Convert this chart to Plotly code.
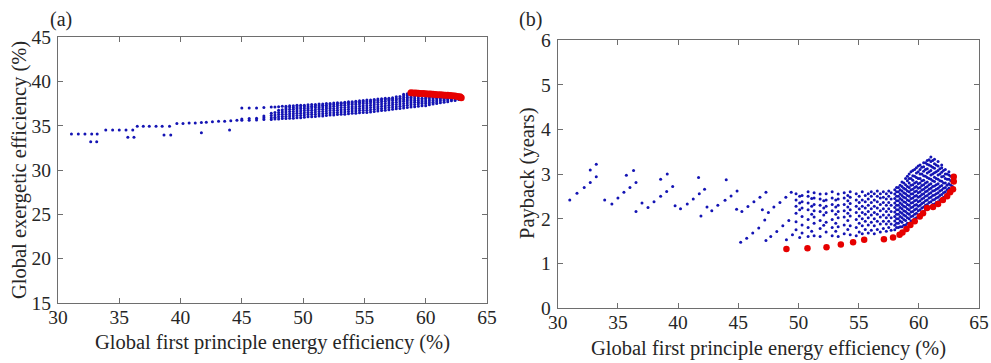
import plotly.graph_objects as go

FONT = "Liberation Serif, Times New Roman, serif"
BLUE = "#1414b4"
RED = "#e60000"

# ---------------- Panel (a) data ----------------
a_sparse_x = [31.1, 31.66, 32.2, 32.75, 33.2, 32.67, 33.16,
              33.9, 34.46, 35.0, 35.55, 36.1, 35.7, 36.2,
              36.47, 36.96, 37.45, 38.0, 38.5, 39.1, 38.65, 39.2,
              39.7, 40.2, 40.7, 41.2, 41.7, 42.1, 41.7,
              42.6, 43.1, 43.6, 44.1, 44.6, 44.0]
a_sparse_y = [34.05, 34.05, 34.05, 34.05, 34.05, 33.2, 33.2,
              34.5, 34.5, 34.5, 34.5, 34.5, 33.7, 33.7,
              34.95, 34.95, 34.95, 34.95, 34.95, 34.95, 33.94, 33.94,
              35.25, 35.25, 35.3, 35.3, 35.35, 35.4, 34.2,
              35.45, 35.5, 35.5, 35.55, 35.6, 34.5]

a_cols = [
    (45.0, [35.6, 35.75, 37.0]),
    (45.6, [35.6, 35.8, 37.0]),
    (46.2, [35.65, 35.85, 37.0]),
    (46.8, [35.7, 35.9, 36.1, 37.05]),
    (47.4, [35.7, 35.9, 36.15, 36.4, 37.1]),
    (47.7, [35.75, 35.95, 36.2, 36.5, 37.1]),
    (48.0, [35.75, 36.0, 36.25, 36.5, 36.75, 37.15]),
    (48.3, [35.8, 36.05, 36.3, 36.55, 36.8, 37.2]),
    (48.6, [35.8, 36.05, 36.3, 36.55, 36.8, 37.0, 37.2]),
    (48.9, [35.85, 36.1, 36.35, 36.6, 36.85, 37.1, 37.25]),
    (49.2, [35.85, 36.1, 36.35, 36.6, 36.85, 37.05, 37.25]),
    (49.5, [35.9, 36.15, 36.4, 36.65, 36.9, 37.1, 37.3]),
    (49.8, [35.9, 36.15, 36.4, 36.65, 36.9, 37.1, 37.3]),
    (50.1, [35.95, 36.2, 36.45, 36.7, 36.95, 37.15, 37.3]),
    (50.4, [36.0, 36.25, 36.5, 36.75, 36.95, 37.15, 37.35]),
    (50.7, [36.0, 36.25, 36.5, 36.75, 37.0, 37.2, 37.4]),
    (51.0, [36.05, 36.3, 36.55, 36.8, 37.05, 37.25, 37.4]),
    (51.3, [36.1, 36.35, 36.6, 36.85, 37.05, 37.25, 37.45]),
    (51.6, [36.1, 36.35, 36.6, 36.85, 37.1, 37.3, 37.45]),
    (51.9, [36.15, 36.4, 36.65, 36.9, 37.1, 37.3, 37.5]),
    (52.2, [36.2, 36.45, 36.7, 36.95, 37.15, 37.35, 37.5]),
    (52.5, [36.2, 36.45, 36.7, 36.95, 37.2, 37.4, 37.55]),
    (52.8, [36.25, 36.5, 36.75, 37.0, 37.25, 37.45, 37.6]),
    (53.1, [36.3, 36.55, 36.8, 37.05, 37.3, 37.5, 37.6]),
    (53.4, [36.3, 36.55, 36.8, 37.05, 37.3, 37.5, 37.65]),
    (53.7, [36.35, 36.6, 36.85, 37.1, 37.35, 37.55, 37.7]),
    (54.0, [36.4, 36.65, 36.9, 37.15, 37.4, 37.55, 37.7]),
    (54.3, [36.4, 36.65, 36.9, 37.15, 37.4, 37.6, 37.75]),
    (54.6, [36.45, 36.7, 36.95, 37.2, 37.45, 37.65, 37.8]),
    (54.9, [36.5, 36.75, 37.0, 37.25, 37.5, 37.7, 37.85]),
    (55.2, [36.5, 36.75, 37.0, 37.25, 37.5, 37.7, 37.9]),
    (55.5, [36.55, 36.8, 37.05, 37.3, 37.55, 37.75, 37.9]),
    (55.8, [36.6, 36.85, 37.1, 37.35, 37.6, 37.8, 37.95]),
    (56.1, [36.65, 36.9, 37.15, 37.4, 37.65, 37.85, 38.0]),
    (56.4, [36.7, 36.95, 37.2, 37.45, 37.7, 37.9, 38.05]),
    (56.7, [36.75, 37.0, 37.25, 37.5, 37.75, 37.95, 38.1]),
    (57.0, [36.8, 37.05, 37.3, 37.55, 37.8, 37.95, 38.1]),
    (57.3, [36.85, 37.1, 37.35, 37.6, 37.85, 38.0, 38.15]),
    (57.6, [36.9, 37.15, 37.4, 37.65, 37.9, 38.05, 38.25]),
    (57.9, [36.95, 37.2, 37.45, 37.7, 37.9, 38.1, 38.3]),
    (58.2, [37.0, 37.25, 37.5, 37.75, 37.95, 38.15, 38.35, 38.55]),
    (58.5, [37.05, 37.3, 37.55, 37.8, 38.0, 38.2, 38.4, 38.6]),
    (58.8, [37.1, 37.35, 37.6, 37.8, 38.0, 38.2, 38.4]),
    (59.1, [37.15, 37.4, 37.65, 37.85, 38.05, 38.25]),
    (59.4, [37.2, 37.45, 37.65, 37.85, 38.05, 38.25]),
    (59.7, [37.25, 37.5, 37.7, 37.9, 38.1]),
    (60.0, [37.25, 37.5, 37.7, 37.9, 38.1, 38.25]),
    (60.3, [37.35, 37.6, 37.8, 38.0, 38.2]),
    (60.6, [37.45, 37.65, 37.85, 38.05, 38.2]),
    (60.9, [37.5, 37.7, 37.9, 38.1]),
    (61.2, [37.6, 37.8, 38.0, 38.15]),
    (61.5, [37.65, 37.85, 38.0, 38.1]),
    (61.8, [37.7, 37.9, 38.05, 38.15]),
    (62.1, [37.8, 37.95, 38.1]),
    (62.4, [37.85, 38.0, 38.1]),
    (62.7, [37.95, 38.05]),
]

a_red_x = [58.8, 59.0, 59.2, 59.4, 59.6, 59.8, 60.0, 60.2, 60.4, 60.6, 60.8,
           61.0, 61.2, 61.4, 61.6, 61.8, 62.0, 62.2, 62.4, 62.6, 62.8, 62.9]
a_red_y = [38.72, 38.7, 38.68, 38.66, 38.64, 38.62, 38.6, 38.58, 38.56, 38.54, 38.52,
           38.5, 38.48, 38.46, 38.44, 38.42, 38.4, 38.38, 38.35, 38.3, 38.25, 38.15]

# ---------------- Panel (b) data ----------------
b_sparse_x = [31.0, 31.6, 32.2, 32.7, 32.7, 33.2, 33.2,
              33.9, 34.5, 35.0, 35.5, 36.0, 36.5, 35.7, 36.3, 36.5,
              37.0, 37.5, 38.0, 38.55, 39.05, 39.55, 38.55, 39.1,
              39.75, 40.2, 40.76, 41.26, 41.76, 42.2, 41.7, 41.9,
              42.4, 42.8, 43.3, 43.9, 44.4, 44.9, 44.0,
              44.86, 45.3, 45.8, 46.3, 46.8, 47.3, 45.2, 45.7, 46.2, 46.7, 47.2,
              47.0, 47.5, 47.96, 48.46, 48.95, 49.4, 47.3, 47.7, 48.2, 48.7, 49.2, 49.0, 49.5]
b_sparse_y = [2.42, 2.57, 2.70, 2.81, 3.09, 3.22, 2.94,
              2.42, 2.33, 2.46, 2.59, 2.70, 2.81, 2.97, 3.08, 2.16,
              2.35, 2.25, 2.38, 2.50, 2.61, 2.72, 2.88, 3.0,
              2.29, 2.22, 2.33, 2.44, 2.56, 2.66, 2.92, 2.06,
              2.26, 2.18, 2.30, 2.41, 2.51, 2.62, 2.87,
              2.21, 2.16, 2.27, 2.38, 2.48, 2.59, 1.47, 1.56, 1.68, 1.79, 1.97,
              2.20, 2.14, 2.26, 2.36, 2.48, 2.59, 1.51, 1.60, 1.71, 1.84, 1.96, 1.53, 1.64]

b_cols = [
    (49.8, [1.75, 1.93, 2.12, 2.28, 2.42, 2.56]),
    (50.1, [1.58, 2.2, 2.35, 2.5]),
    (50.3, [1.68, 1.86, 2.05, 2.24, 2.38, 2.52]),
    (50.8, [1.6, 1.8, 1.98, 2.2, 2.35, 2.5, 2.6]),
    (51.1, [1.72, 2.1, 2.28, 2.45]),
    (51.3, [1.62, 1.9, 2.04, 2.18, 2.32, 2.46, 2.58]),
    (51.8, [1.6, 1.78, 1.96, 2.16, 2.3, 2.44, 2.55]),
    (52.1, [1.85, 2.08, 2.24, 2.4]),
    (52.3, [1.7, 1.92, 2.14, 2.28, 2.42, 2.56]),
    (52.8, [1.62, 1.8, 1.98, 2.18, 2.32, 2.46, 2.6]),
    (53.1, [1.72, 1.9, 2.1, 2.26, 2.42]),
    (53.3, [1.6, 1.82, 2.02, 2.16, 2.3, 2.44, 2.55]),
    (53.8, [1.66, 1.86, 2.04, 2.18, 2.32, 2.46, 2.58]),
    (54.1, [1.76, 1.96, 2.12, 2.26, 2.4, 2.52]),
    (54.3, [1.64, 1.84, 2.06, 2.2, 2.34, 2.48, 2.6]),
    (54.8, [1.62, 1.8, 1.98, 2.14, 2.28, 2.42, 2.56]),
    (55.05, [1.7, 1.9, 2.06, 2.22, 2.36, 2.5]),
    (55.3, [1.66, 1.84, 2.0, 2.14, 2.28, 2.42, 2.6]),
    (55.55, [1.76, 1.94, 2.1, 2.24, 2.38, 2.52]),
    (55.8, [1.68, 1.86, 2.02, 2.16, 2.3, 2.44, 2.56]),
    (56.05, [1.74, 1.92, 2.08, 2.22, 2.36, 2.5, 2.6]),
    (56.3, [1.66, 1.84, 2.0, 2.14, 2.28, 2.42, 2.56]),
    (56.55, [1.76, 1.94, 2.1, 2.24, 2.38, 2.5, 2.62]),
    (56.8, [1.7, 1.88, 2.04, 2.18, 2.32, 2.46, 2.56]),
    (57.05, [1.78, 1.94, 2.08, 2.22, 2.36, 2.48, 2.6]),
    (57.3, [1.72, 1.88, 2.02, 2.16, 2.3, 2.44, 2.56]),
    (57.5, [1.8, 1.94, 2.08, 2.22, 2.36, 2.5, 2.62]),
    (57.7, [1.74, 1.88, 2.02, 2.16, 2.3, 2.44, 2.58]),
    (58.0, [1.75, 1.85, 1.95, 2.05, 2.15, 2.25, 2.35, 2.45, 2.55, 2.65]),
    (58.15, [1.8, 1.9, 2.0, 2.1, 2.2, 2.3, 2.4, 2.5, 2.6, 2.7]),
    (58.3, [1.8, 1.9, 2.0, 2.1, 2.2, 2.3, 2.4, 2.5, 2.6, 2.7]),
    (58.45, [1.82, 1.95, 2.05, 2.15, 2.25, 2.35, 2.45, 2.55, 2.65, 2.75]),
    (58.6, [1.82, 1.92, 2.02, 2.12, 2.22, 2.32, 2.42, 2.52, 2.62, 2.72, 2.82]),
    (58.75, [1.85, 1.98, 2.08, 2.18, 2.28, 2.38, 2.48, 2.58, 2.68, 2.8]),
    (58.9, [1.86, 1.96, 2.06, 2.16, 2.26, 2.36, 2.46, 2.56, 2.66, 2.76, 2.9]),
    (59.05, [1.9, 2.02, 2.12, 2.22, 2.32, 2.42, 2.52, 2.62, 2.72, 2.85, 2.95]),
    (59.2, [1.9, 2.0, 2.1, 2.2, 2.3, 2.4, 2.5, 2.6, 2.7, 2.8, 2.9, 3.0]),
    (59.35, [1.95, 2.05, 2.15, 2.25, 2.35, 2.45, 2.55, 2.65, 2.75, 2.9, 3.05]),
    (59.5, [1.96, 2.06, 2.16, 2.26, 2.36, 2.46, 2.56, 2.66, 2.76, 2.86, 2.96, 3.08]),
    (59.65, [2.0, 2.1, 2.2, 2.3, 2.4, 2.5, 2.6, 2.7, 2.8, 2.95, 3.1]),
    (59.8, [2.02, 2.12, 2.22, 2.32, 2.42, 2.52, 2.62, 2.72, 2.82, 2.92, 3.02, 3.14]),
    (59.95, [2.08, 2.18, 2.28, 2.38, 2.48, 2.58, 2.68, 2.78, 2.9, 3.05, 3.18]),
    (60.1, [2.1, 2.2, 2.3, 2.4, 2.5, 2.6, 2.7, 2.8, 2.9, 3.0, 3.1, 3.2]),
    (60.25, [2.14, 2.24, 2.34, 2.44, 2.54, 2.64, 2.74, 2.85, 3.0, 3.15]),
    (60.4, [2.16, 2.26, 2.36, 2.46, 2.56, 2.66, 2.76, 2.86, 2.96, 3.06, 3.16, 3.25]),
    (60.55, [2.2, 2.3, 2.4, 2.5, 2.6, 2.7, 2.8, 2.95, 3.1, 3.25]),
    (60.7, [2.22, 2.32, 2.42, 2.52, 2.62, 2.72, 2.82, 2.92, 3.02, 3.12, 3.22, 3.3]),
    (60.85, [2.26, 2.36, 2.46, 2.56, 2.66, 2.76, 2.9, 3.05, 3.2, 3.32]),
    (61.0, [2.28, 2.38, 2.48, 2.58, 2.68, 2.78, 2.88, 2.98, 3.08, 3.18, 3.28, 3.38]),
    (61.15, [2.32, 2.42, 2.52, 2.62, 2.72, 2.85, 3.0, 3.15, 3.3]),
    (61.3, [2.33, 2.43, 2.53, 2.63, 2.73, 2.83, 2.93, 3.03, 3.13, 3.23, 3.33]),
    (61.45, [2.36, 2.46, 2.56, 2.66, 2.76, 2.9, 3.05, 3.2]),
    (61.6, [2.38, 2.48, 2.58, 2.68, 2.78, 2.88, 2.98, 3.08, 3.18, 3.28]),
    (61.75, [2.42, 2.52, 2.62, 2.72, 2.85, 3.0, 3.12]),
    (61.9, [2.44, 2.54, 2.64, 2.74, 2.84, 2.94, 3.04, 3.14, 3.2]),
    (62.05, [2.48, 2.58, 2.68, 2.8, 2.95, 3.08]),
    (62.2, [2.5, 2.6, 2.7, 2.8, 2.9, 3.0, 3.1]),
    (62.35, [2.55, 2.65, 2.75, 2.88, 3.0]),
    (62.5, [2.58, 2.68, 2.78, 2.88, 2.98, 3.05]),
    (62.65, [2.65, 2.75, 2.85, 2.95]),
    (62.8, [2.72, 2.82, 2.92]),
]

b_red_x = [49.0, 50.75, 52.33, 53.52, 54.54, 55.46, 57.1, 57.86, 58.4, 58.64, 58.97,
           59.3, 59.66, 60.08, 60.35, 60.68, 61.18, 61.6, 62.0, 62.35, 62.6, 62.84,
           62.9, 62.9]
b_red_y = [1.32, 1.34, 1.36, 1.42, 1.47, 1.53, 1.54, 1.58, 1.64, 1.69, 1.77,
           1.86, 1.94, 2.05, 2.12, 2.24, 2.26, 2.33, 2.42, 2.50, 2.59, 2.66,
           2.83, 2.94]

x_ticks = [30, 35, 40, 45, 50, 55, 60, 65]
ya_ticks = [15, 20, 25, 30, 35, 40, 45]
yb_ticks = [0, 1, 2, 3, 4, 5, 6]

x_title = "Global first principle energy efficiency (%)"
ya_title = "Global exergetic efficiency (%)"
yb_title = "Payback (years)"


def flatten(xs, ys, cols):
    fx, fy = list(xs), list(ys)
    for cx, cy in cols:
        for v in cy:
            fx.append(cx)
            fy.append(v)
    return fx, fy


ax_x, ax_y = flatten(a_sparse_x, a_sparse_y, a_cols)
bx_x, bx_y = flatten(b_sparse_x, b_sparse_y, b_cols)

fig = go.Figure()
fig.add_trace(go.Scatter(x=ax_x, y=ax_y, mode="markers", xaxis="x", yaxis="y",
                         marker=dict(color=BLUE, size=3, line=dict(width=0)), showlegend=False))
fig.add_trace(go.Scatter(x=a_red_x, y=a_red_y, mode="markers", xaxis="x", yaxis="y",
                         marker=dict(color=RED, size=7, line=dict(width=0)), showlegend=False))
fig.add_trace(go.Scatter(x=bx_x, y=bx_y, mode="markers", xaxis="x2", yaxis="y2",
                         marker=dict(color=BLUE, size=3, line=dict(width=0)), showlegend=False))
fig.add_trace(go.Scatter(x=b_red_x, y=b_red_y, mode="markers", xaxis="x2", yaxis="y2",
                         marker=dict(color=RED, size=6.5, line=dict(width=0)), showlegend=False))

tick_font = dict(family=FONT, size=19.5, color="#262626")
axis_common = dict(showline=True, linecolor="#6e6e6e", linewidth=1, mirror="ticks",
                   ticks="inside", ticklen=5, tickcolor="#6e6e6e", showgrid=False,
                   zeroline=False, automargin=False, tickfont=tick_font)
xaxis_common = dict(axis_common, ticklabelstandoff=-3)
yaxis_common = dict(axis_common, ticklabelstandoff=2)


def ann(text, x, y, angle=0, size=20.5):
    return dict(text=text, x=x, y=y, xref="paper", yref="paper", xanchor="center",
                yanchor="middle", showarrow=False, textangle=angle,
                font=dict(family=FONT, size=size, color="#262626"))


fig.update_layout(
    width=991, height=363, margin=dict(l=0, r=0, t=0, b=0),
    paper_bgcolor="white", plot_bgcolor="white", template="none",
    xaxis=dict(xaxis_common, domain=[0.0585, 0.4914], range=[30, 65], tickvals=x_ticks, anchor="y"),
    yaxis=dict(yaxis_common, domain=[0.1653, 0.898], range=[15, 45], tickvals=ya_ticks, anchor="x"),
    xaxis2=dict(xaxis_common, domain=[0.5628, 0.9879], range=[30, 65], tickvals=x_ticks, anchor="y2"),
    yaxis2=dict(yaxis_common, domain=[0.1515, 0.8898], range=[0, 6], tickvals=yb_ticks, anchor="x2"),
    annotations=[
        ann(x_title, 0.275, 0.0551),
        ann(x_title, 0.775, 0.0413),
        ann(ya_title, 0.0202, 0.5317, angle=-90),
        ann(yb_title, 0.5328, 0.5207, angle=-90),
        ann("(a)", 0.0616, 0.945, size=20),
        ann("(b)", 0.5353, 0.945, size=20),
    ],
)

fig.write_html("out.html", config={"displayModeBar": False},
               post_script="document.body.style.margin='0px';")
